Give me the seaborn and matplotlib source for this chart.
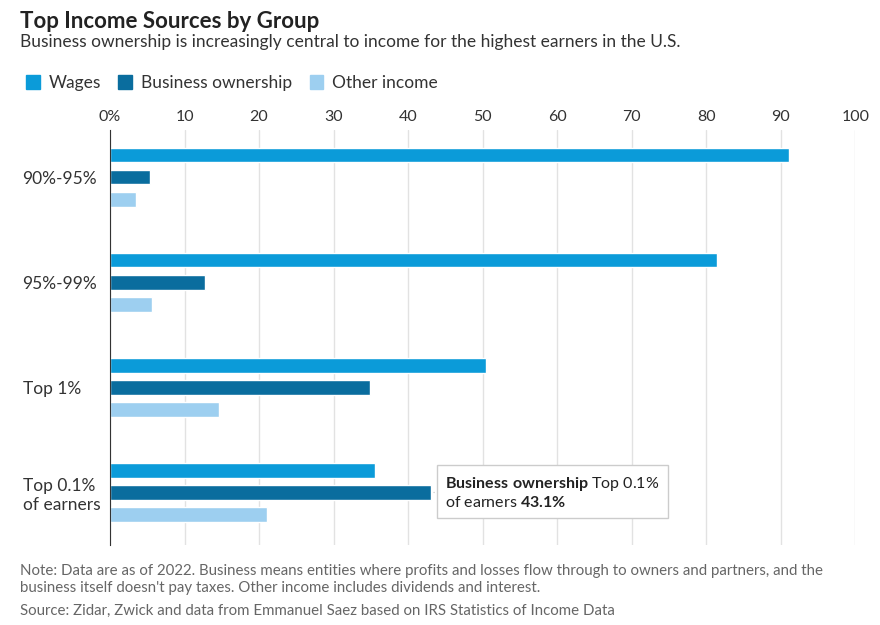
import matplotlib
matplotlib.use("Agg")
import matplotlib.pyplot as plt
import seaborn as sns
import pandas as pd
from matplotlib.patches import Patch

groups = ["90%-95%", "95%-99%", "Top 1%", "Top 0.1%\nof earners"]
sources = ["Wages", "Business ownership", "Other income"]
wages = [91.1, 81.5, 50.5, 35.6]
business = [5.4, 12.8, 34.9, 43.1]
other = [3.5, 5.6, 14.6, 21.1]
colors = ["#0b9bd9", "#0a6d9e", "#9dcff0"]

rows = []
for s, vals in zip(sources, [wages, business, other]):
    for g, v in zip(groups, vals):
        rows.append({"group": g, "source": s, "value": v})
df = pd.DataFrame(rows)

sns.set_style("white")
plt.rcParams['font.family'] = ['Lato', 'DejaVu Sans']
plt.rcParams['mathtext.fontset'] = 'custom'
plt.rcParams['mathtext.rm'] = 'Lato'
plt.rcParams['mathtext.bf'] = 'Lato:bold'
fig = plt.figure(figsize=(8.8, 6.25), dpi=100)
ax = fig.add_axes([0.125, 0.128, 0.847, 0.664])
sns.barplot(data=df, y="group", x="value", hue="source", orient="h",
            palette=colors, width=0.63, gap=0.35, ax=ax, legend=False, saturation=1)
ax.set_xlim(0, 100)
ax.set_ylim(3.5, -0.45)
ax.set_xticks(range(0, 101, 10))
ax.set_xticklabels(["0%"] + [str(i) for i in range(10, 101, 10)])
ax.xaxis.tick_top()
ax.tick_params(axis="x", length=0, labelsize=11.5, colors="#333333", pad=4)
ax.tick_params(axis="y", length=0, labelsize=12.5, colors="#333333", pad=63)
for t in ax.get_yticklabels():
    t.set_ha("left")
ax.grid(axis="x", color="#e2e2e2", linewidth=1)
ax.set_axisbelow(True)
for s in ["top", "right", "bottom"]:
    ax.spines[s].set_visible(False)
ax.spines["left"].set_color("#333333")
ax.set_xlabel("")
ax.set_ylabel("")

fig.text(0.023, 0.982, "Top Income Sources by Group", fontsize=16, fontweight="bold", color="#222222", va="top")
fig.text(0.023, 0.945, "Business ownership is increasingly central to income for the highest earners in the U.S.",
         fontsize=12.5, color="#333333", va="top")
handles = [Patch(color=c) for c in colors]
fig.legend(handles, sources, loc="center left", bbox_to_anchor=(0.012, 0.867), ncol=3, frameon=False,
           fontsize=12.5, handlelength=0.8, handleheight=0.8, handletextpad=0.5, columnspacing=1.0,
           labelcolor="#333333")

ax.annotate("$\\bf{Business\\ ownership}$ Top 0.1%\nof earners $\\bf{43.1\\%}$",
            xy=(43.1, 3.0), xytext=(45.0, 3.0), fontsize=11.5, color="#222222", va="center", ha="left",
            bbox=dict(boxstyle="square,pad=0.5", fc="white", ec="#cccccc"),
            arrowprops=dict(arrowstyle="-", color="#cccccc"))

fig.text(0.023, 0.097, "Note: Data are as of 2022. Business means entities where profits and losses flow through to owners and partners, and the\nbusiness itself doesn't pay taxes. Other income includes dividends and interest.",
         fontsize=10.8, color="#666666", va="top", linespacing=1.25)
fig.text(0.023, 0.034, "Source: Zidar, Zwick and data from Emmanuel Saez based on IRS Statistics of Income Data",
         fontsize=10.8, color="#666666", va="top")
fig.savefig("out.png", dpi=100)
